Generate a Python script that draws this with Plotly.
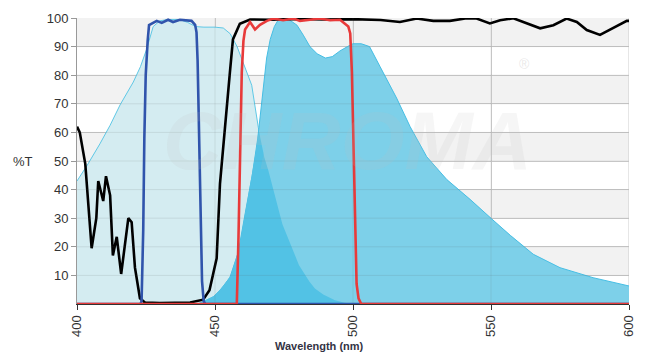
import numpy as np
import plotly.graph_objects as go

# ---- data (wavelength nm, %T) ----
ex_wl = [400, 404, 408.3, 412, 415.6, 420.4, 423, 425.2, 427.6, 430, 433, 437, 440, 443, 446, 450,
         453, 455.5, 458, 460.9, 463.3, 465.7, 467.4, 468.7, 472.3, 473.6, 476, 479.6, 482, 485.5,
         488, 491.6, 495, 498, 500]
ex_val = [43, 49, 56, 62.5, 69.6, 77.6, 83, 89, 97, 99, 99.5, 99.5, 98.5, 97, 96.8, 96.8,
          96.5, 94.5, 90, 83, 76.5, 61.7, 52.5, 49, 35.5, 30, 24, 15, 11, 6,
          4, 2, 0.8, 0.2, 0]

em_wl = [443, 444.5, 449.4, 452, 455.4, 458.4, 461, 463.5, 465.5, 467, 468.7, 470, 471.5, 473,
         474.6, 476, 477.5, 479.7, 482, 484.4, 487, 490, 492.5, 495.3, 498, 500, 503, 506,
         509.8, 512.2, 515.8, 520.7, 526.7, 534, 542.4, 550.2, 557, 565.3, 575, 587, 599.3, 600]
em_val = [0, 0.3, 2.5, 5, 9.3, 18, 32, 45, 58, 72, 86, 92.5, 97, 99.5,
          100, 100, 99, 97.5, 94, 90, 87.5, 86, 86.5, 88.5, 90, 91, 91, 90,
          83, 78.7, 72, 62, 51.5, 43.5, 36.6, 29.8, 24, 17.4, 12.7, 9.2, 6.5, 6.3]

blk_wl = [400, 401, 403, 405.3, 407, 407.7, 409.5, 410.5, 412, 413, 414.4, 416, 418.6, 419.8,
          421, 422.8, 424.6, 430, 441, 445.7, 448, 450.6, 451.8, 453.6, 455.4, 456.5, 459,
          462.7, 470, 480, 490, 500, 510, 517, 523.1, 529.1, 535.1, 541.2, 544.8, 549.6, 553.3,
          558.1, 561.7, 567.8, 572.6, 577.4, 581.1, 584.7, 589.5, 594.3, 599.2, 600]
blk_val = [62, 60, 49, 19.5, 30, 43, 36, 44.7, 38, 17, 23.5, 10.5, 30, 28.6,
           12.7, 2, 0.5, 0.3, 0.5, 1.5, 4.8, 16, 42, 63, 81, 92.5, 98,
           99.5, 99.4, 99.7, 99.5, 99.6, 99.3, 98.6, 99.8, 99.0, 99.0, 99.9, 99.8, 98.1, 99.2,
           99.9, 98.6, 96.4, 97.5, 99.8, 98.6, 95.8, 94.1, 96.4, 99.0, 99.0]

blu_wl = [400, 423.0, 423.4, 424.0, 424.4, 424.9, 425.6, 426.1, 428.9, 430.7, 433, 434.8, 437.3,
          439.7, 441.5, 442.8, 443.3, 443.7, 444.0, 444.6, 445.3, 445.9, 446.5, 600]
blu_val = [0, 0, 1, 26, 58, 80, 92, 97.5, 99, 98.3, 99.4, 98.6, 99.4,
           99.2, 99, 97.6, 95, 85, 70, 30, 8, 1, 0, 0]

red_wl = [400, 457.9, 458.5, 459.1, 459.7, 460.3, 460.9, 462.7, 464.5, 466.3, 468.8, 471.1,
          474.7, 478.4, 480.8, 484.4, 488, 491.7, 495.3, 498.3, 499, 499.6, 500.1, 500.7,
          501.3, 502, 503, 600]
red_val = [0, 0, 23, 50, 81, 92, 96, 98.6, 96, 97.6, 99, 99.8,
           99.2, 99.8, 99, 99.4, 99.8, 99.2, 99.4, 97, 94.6, 81, 60, 30,
           7, 2, 0, 0]

x_ticks = [400, 450, 500, 550, 600]
y_ticks = [10, 20, 30, 40, 50, 60, 70, 80, 90, 100]

# overlap of excitation and emission spectra
grid = np.linspace(443, 500, 571)
ov = np.minimum(np.interp(grid, ex_wl, ex_val), np.interp(grid, em_wl, em_val))

fig = go.Figure()
fig.add_trace(go.Scatter(x=ex_wl, y=ex_val, mode="lines", fill="tozeroy",
                         fillcolor="rgb(212,236,241)", line=dict(color="rgb(95,200,230)", width=1)))
fig.add_trace(go.Scatter(x=em_wl, y=em_val, mode="lines", fill="tozeroy",
                         fillcolor="rgb(125,208,233)", line=dict(color="rgb(70,190,228)", width=1)))
fig.add_trace(go.Scatter(x=grid, y=ov, mode="lines", fill="tozeroy",
                         fillcolor="rgb(82,194,229)", line=dict(width=0)))
fig.add_trace(go.Scatter(x=blk_wl, y=blk_val, mode="lines", line=dict(color="black", width=2.6)))
fig.add_trace(go.Scatter(x=blu_wl, y=blu_val, mode="lines", line=dict(color="rgb(48,84,172)", width=2.6)))
fig.add_trace(go.Scatter(x=red_wl, y=red_val, mode="lines", line=dict(color="rgb(232,58,58)", width=2.6)))

shapes = []
for lo in [10, 30, 50, 70, 90]:
    shapes.append(dict(type="rect", xref="x", yref="y", x0=400, x1=600, y0=lo, y1=lo + 10,
                       fillcolor="rgb(242,242,242)", line=dict(width=0), layer="below"))
for yv in y_ticks[:-1]:
    shapes.append(dict(type="line", xref="x", yref="y", x0=400, x1=600, y0=yv, y1=yv,
                       line=dict(color="rgba(90,90,90,0.13)", width=1), layer="above"))
for xv in [450, 500, 550]:
    shapes.append(dict(type="line", xref="x", yref="y", x0=xv, x1=xv, y0=0, y1=100,
                       line=dict(color="rgba(90,90,90,0.13)", width=1), layer="above"))
shapes.append(dict(type="line", xref="x", yref="y", x0=600, x1=600, y0=0, y1=100,
                   line=dict(color="rgb(205,205,205)", width=1), layer="below"))

fig.update_layout(
    width=652, height=354,
    margin=dict(l=77, r=23, t=11, b=50),
    paper_bgcolor="white", plot_bgcolor="white",
    showlegend=False, hovermode=False,
    font=dict(family="Liberation Sans, Arial, sans-serif", size=13, color="#333"),
    shapes=shapes,
    xaxis=dict(range=[400, 600], tickvals=x_ticks, tickangle=-90, showgrid=True,
               gridcolor="rgb(205,205,205)", zeroline=False, showline=True, linecolor="#333",
               ticks="outside", ticklen=5, tickcolor="#333", tickfont=dict(size=13)),
    yaxis=dict(range=[0, 100], tickvals=y_ticks, showgrid=True, gridcolor="rgb(205,205,205)",
               zeroline=False, showline=True, linecolor="#999", ticks="outside", ticklen=5,
               tickcolor="#999", tickfont=dict(size=13)),
    annotations=[
        dict(text="%T", xref="paper", yref="paper", x=-0.097, y=0.5, showarrow=False,
             xanchor="center", yanchor="middle", font=dict(size=13, color="#333")),
        dict(text="<b>Wavelength (nm)</b>", xref="paper", yref="paper", x=0.44, y=-0.118,
             showarrow=False, xanchor="center", yanchor="top", font=dict(size=11, color="#334")),
        dict(text="<b><i>CHROMA</i></b>", xref="x", yref="y", x=498, y=57, showarrow=False,
             xanchor="center", yanchor="middle",
             font=dict(size=82, color="rgba(190,190,190,0.14)")),
        dict(text="®", xref="x", yref="y", x=562, y=84, showarrow=False,
             font=dict(size=14, color="rgba(190,190,190,0.35)")),
    ],
)

fig.write_html("out.html")
